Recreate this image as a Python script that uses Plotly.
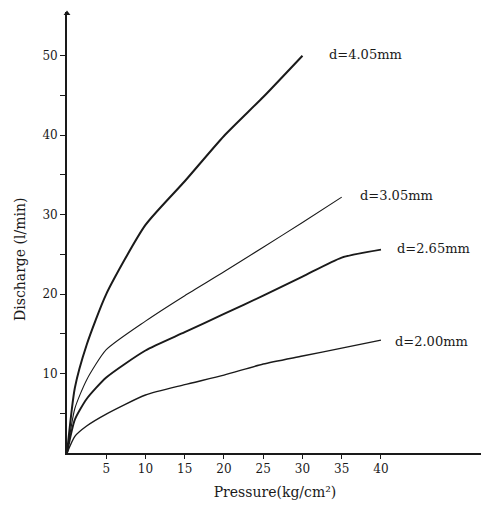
import plotly.graph_objects as go

# Pressure (kg/cm2) and discharge (l/min)
p_405 = [0, 1, 2.5, 5, 10, 15, 20, 25, 30]
q_405 = [0, 8.2, 13.6, 20, 28.7, 34.2, 39.9, 44.8, 50]

p_305 = [0, 1, 2.5, 5, 10, 15, 20, 25, 30, 35]
q_305 = [0, 5.6, 9.2, 13, 16.6, 19.8, 22.8, 25.9, 29.0, 32.2]

p_265 = [0, 1, 2.5, 5, 10, 15, 20, 25, 30, 35, 40]
q_265 = [0, 4.2, 6.8, 9.5, 12.9, 15.2, 17.5, 19.8, 22.2, 24.6, 25.6]

p_200 = [0, 1, 2.5, 5, 10, 15, 20, 25, 30, 35, 40]
q_200 = [0, 2.1, 3.4, 4.9, 7.3, 8.6, 9.8, 11.2, 12.2, 13.2, 14.2]

series_labels = ["d=4.05mm", "d=3.05mm", "d=2.65mm", "d=2.00mm"]
label_pos_x = [33.1, 37.1, 41.8, 41.5]
label_pos_y = [50.1, 32.4, 25.7, 14.0]

x_ticks = [5, 10, 15, 20, 25, 30, 35, 40]
y_ticks = [5, 10, 15, 20, 25, 30, 35, 40, 45, 50]
y_ticktext = ["", "10", "", "20", "", "30", "", "40", "", "50"]

SERIF = "DejaVu Serif, Liberation Serif, serif"
INK = "#1a1a1a"

fig = go.Figure()
series = [(p_405, q_405, 2.0), (p_305, q_305, 1.1), (p_265, q_265, 1.9), (p_200, q_200, 1.4)]
for (px, qy, w), name in zip(series, series_labels):
    fig.add_trace(go.Scatter(
        x=px, y=qy, mode="lines", name=name,
        line=dict(color=INK, width=w, shape="spline", smoothing=0.6),
        showlegend=False, hoverinfo="skip",
    ))

for name, lx, ly in zip(series_labels, label_pos_x, label_pos_y):
    fig.add_annotation(x=lx, y=ly, text=name, showarrow=False, xanchor="left",
                       yanchor="middle", font=dict(family=SERIF, size=13, color=INK))

# arrow head at top of y axis
fig.add_trace(go.Scatter(x=[0], y=[55.3], mode="markers",
                         marker=dict(symbol="triangle-up", size=6, color=INK),
                         cliponaxis=False, showlegend=False, hoverinfo="skip"))

fig.add_annotation(xref="paper", yref="paper", x=-0.113, y=0.44,
                   xanchor="center", yanchor="middle",
                   text="Discharge (l/min)", textangle=-90, showarrow=False,
                   font=dict(family=SERIF, size=14, color=INK))

fig.update_layout(
    width=481, height=502,
    margin=dict(l=59, r=6, t=4, b=57),
    paper_bgcolor="white", plot_bgcolor="white",
    font=dict(family=SERIF, size=13, color=INK),
    xaxis=dict(range=[0, 53], tickvals=x_ticks, showgrid=False, zeroline=False,
               showline=True, linecolor=INK, linewidth=1.6,
               ticks="outside", ticklen=4, tickwidth=1.2, tickcolor=INK,
               tickfont=dict(family=SERIF, size=12, color=INK),
               title=dict(text="Pressure(kg/cm²)", standoff=12,
                          font=dict(family=SERIF, size=14, color=INK))),
    yaxis=dict(range=[0, 55.5], tickvals=y_ticks, ticktext=y_ticktext,
               showgrid=False, zeroline=False,
               showline=True, linecolor=INK, linewidth=1.8,
               ticks="outside", ticklen=5, tickwidth=1.2, tickcolor=INK,
               tickfont=dict(family=SERIF, size=12, color=INK)),
)

fig.write_html("out.html")
